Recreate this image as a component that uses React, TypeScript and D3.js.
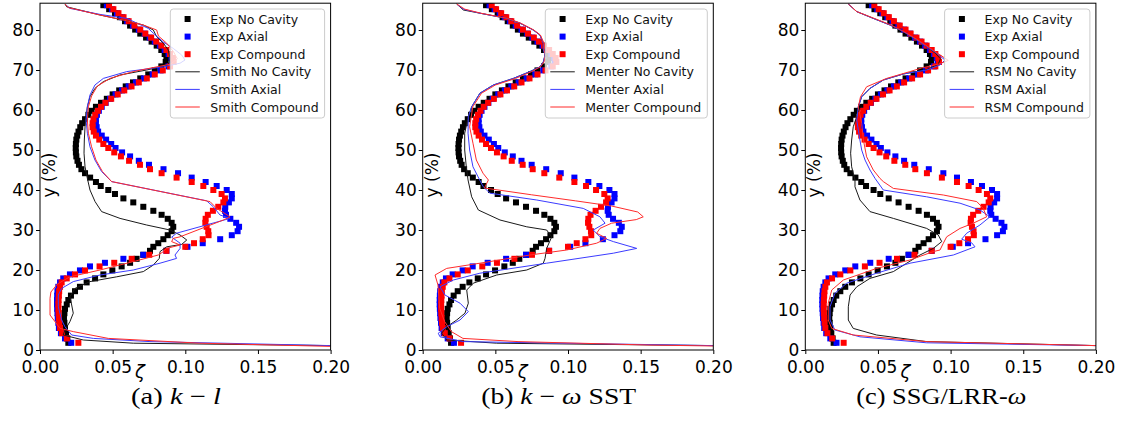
import React, { useEffect, useRef } from "react";
import * as d3 from "d3";

type Pt = [number, number];

// experimental profiles (same in every panel)
const expY = [
  86.2, 85.2, 84.2, 83.2, 82.2, 81.1, 80.1, 79.1, 78.1, 77.1, 76.1, 75.0, 74.0, 73.0, 72.0,
  70.9, 69.9, 68.9, 67.9, 66.9, 65.9, 64.9, 63.9, 62.8, 61.8, 60.8,
  59.8, 58.8, 57.7, 56.7, 55.7, 54.6, 53.6, 52.6, 51.5, 50.5,
  49.4, 48.4, 47.3, 46.3, 45.2, 44.2, 43.1, 42.0, 41.0, 40.0,
  39.0, 37.9, 36.9, 35.8, 34.8, 33.8, 32.8, 31.8, 30.8,
  29.7, 28.7, 27.7, 26.7, 25.8, 24.8, 23.8, 22.8, 21.8, 20.9,
  19.9, 18.9, 17.9, 16.9, 15.8, 14.7, 13.6, 12.5, 11.4, 10.3,
  9.2, 8.0, 6.8, 5.5, 4.2, 2.9, 1.8,
];

const expNoCavity = [
  0.0436, 0.0476, 0.0516, 0.055, 0.0585, 0.062, 0.0655, 0.069, 0.073, 0.0768, 0.0803, 0.0835, 0.0858, 0.087, 0.0865,
  0.0835, 0.079, 0.0745, 0.069, 0.064, 0.059, 0.0545, 0.05, 0.046, 0.042, 0.0385,
  0.0355, 0.0333, 0.031, 0.029, 0.0277, 0.0265, 0.0256, 0.025, 0.0247, 0.0246,
  0.0247, 0.025, 0.0258, 0.0268, 0.0285, 0.031, 0.0345, 0.0385, 0.0418, 0.047,
  0.0516, 0.0574, 0.0642, 0.0711, 0.078, 0.0837, 0.0879, 0.0906, 0.0917,
  0.0906, 0.0879, 0.0849, 0.0814, 0.078, 0.0757, 0.0711, 0.0665, 0.062, 0.0562,
  0.0498, 0.0436, 0.0379, 0.0321, 0.0275, 0.0241, 0.0213, 0.0195, 0.0184, 0.0172,
  0.0168, 0.0165, 0.0168, 0.0172, 0.0179, 0.0188, 0.0195,
];

const expAxial = [
  0.046, 0.0495, 0.053, 0.0565, 0.06, 0.064, 0.068, 0.072, 0.0755, 0.079, 0.0825, 0.0858, 0.0885, 0.0905, 0.091,
  0.0885, 0.083, 0.0775, 0.0715, 0.066, 0.061, 0.0565, 0.052, 0.0482, 0.0452, 0.0425,
  0.0405, 0.0392, 0.0385, 0.0385, 0.039, 0.04, 0.0425, 0.0455, 0.049, 0.052,
  0.0565, 0.062, 0.068, 0.075, 0.085, 0.095, 0.1044, 0.114, 0.1216, 0.1285,
  0.132, 0.132, 0.13, 0.1275, 0.1273, 0.128, 0.131, 0.135, 0.137,
  0.136, 0.132, 0.124, 0.112, 0.1015, 0.087, 0.0711, 0.0574, 0.0447, 0.0344,
  0.0275, 0.0206, 0.016, 0.0138, 0.0126, 0.012, 0.0118, 0.0117, 0.0117, 0.0118,
  0.012, 0.0122, 0.0126, 0.013, 0.0144, 0.0172, 0.0215,
];

const expCompound = [
  0.0475, 0.0505, 0.054, 0.0575, 0.061, 0.065, 0.069, 0.0725, 0.0765, 0.08, 0.0835, 0.087, 0.0895, 0.0915, 0.092,
  0.0895, 0.0845, 0.079, 0.0735, 0.068, 0.063, 0.058, 0.0535, 0.049, 0.045, 0.042,
  0.0398, 0.038, 0.0368, 0.0362, 0.0362, 0.037, 0.0385, 0.0408, 0.0436, 0.047,
  0.0511, 0.0557, 0.0613, 0.0688, 0.0757, 0.0837, 0.094, 0.1044, 0.1124, 0.1193,
  0.125, 0.1273, 0.1262, 0.1227, 0.119, 0.1155, 0.114, 0.1138, 0.1147,
  0.1158, 0.116, 0.112, 0.106, 0.1, 0.087, 0.0752, 0.0631, 0.0511, 0.041,
  0.031, 0.0241, 0.0184, 0.0149, 0.0138, 0.0132, 0.013, 0.0128, 0.0127, 0.0127,
  0.0128, 0.013, 0.0133, 0.0138, 0.0152, 0.0185, 0.0264,
];

// (a) k-l, Smith
const smithNoCavity: Pt[] = [
  [0.0172, 86.5], [0.0184, 85.8], [0.0413, 83.75], [0.0597, 82.3], [0.0711, 81.25], [0.078, 80], [0.0803, 78.3],
  [0.0849, 76.7], [0.0883, 75], [0.0895, 72.9], [0.0883, 71.25], [0.0734, 70], [0.055, 68.75], [0.0436, 67.1],
  [0.0378, 65.4], [0.0344, 63.3], [0.0326, 60.8], [0.0317, 58.3], [0.031, 55.8], [0.0305, 52.5], [0.0303, 49.2],
  [0.031, 45.8], [0.0326, 42.9], [0.0344, 40], [0.0379, 37.1], [0.0424, 34.6], [0.0551, 32.9], [0.0734, 31.25],
  [0.0895, 30], [0.0964, 28.75], [0.101, 27.5], [0.0975, 26.4], [0.0872, 25.8], [0.0826, 24.6], [0.0821, 22.9],
  [0.078, 21.25], [0.0711, 19.6], [0.0528, 18.3], [0.0344, 17.1], [0.0241, 15.4], [0.0206, 13.3], [0.0218, 11.25],
  [0.0229, 9.2], [0.0206, 7.1], [0.0172, 5], [0.016, 3.75], [0.0298, 2.5], [0.0642, 1.7], [0.2, 1.1],
];
const smithAxial: Pt[] = [
  [0.0172, 86.5], [0.0206, 85.4], [0.0413, 83.9], [0.0597, 82.9], [0.0745, 80.4], [0.078, 79.2], [0.0849, 77],
  [0.0917, 75.4], [0.0975, 73.75], [0.0998, 72.5], [0.0964, 71.7], [0.0849, 70.8], [0.0597, 69.6], [0.0436, 67.9],
  [0.0378, 66.25], [0.0344, 63.75], [0.0326, 60.8], [0.0317, 57.5], [0.0326, 54.2], [0.0344, 50.8], [0.0378, 47.5],
  [0.0424, 44.6], [0.0493, 42.1], [0.1147, 37.3], [0.1193, 35.8], [0.1239, 33.75], [0.1308, 32.9], [0.094, 29.2],
  [0.0906, 28.2], [0.0964, 26.7], [0.0964, 25.4], [0.0929, 23.75], [0.094, 22.9], [0.0826, 21.7], [0.0642, 20],
  [0.0413, 18.75], [0.0229, 17.1], [0.0149, 15.4], [0.0126, 13.75], [0.0126, 10.8], [0.0149, 7.5], [0.0172, 5.8],
  [0.0218, 3.75], [0.0367, 2.9], [0.0757, 2.1], [0.2, 1.1],
];
const smithCompound: Pt[] = [
  [0.0172, 86.5], [0.0195, 85.6], [0.0413, 83.75], [0.0597, 82.3], [0.0711, 81.25], [0.0803, 80], [0.0815, 78.5],
  [0.0872, 76.7], [0.092, 74.5], [0.0945, 72.8], [0.09, 71.5], [0.0642, 69.6], [0.0482, 67.9], [0.0395, 66],
  [0.0355, 63.5], [0.0333, 60.8], [0.0326, 57.5], [0.0333, 54.2], [0.0355, 50.8], [0.0385, 47.5], [0.043, 44.6],
  [0.0493, 42.1], [0.117, 37.1], [0.1216, 35.4], [0.1308, 33.3], [0.1262, 32.5], [0.0964, 28.3], [0.0917, 27.9],
  [0.0906, 27.1], [0.0964, 26.25], [0.0872, 25.4], [0.0849, 24.6], [0.0814, 23.75], [0.0642, 22.1], [0.0413, 20],
  [0.0206, 18.3], [0.012, 16.5], [0.0075, 14.5], [0.0069, 12.9], [0.0069, 8.75], [0.0138, 5.4], [0.0229, 4.6],
  [0.047, 2.9], [0.11, 1.7], [0.2, 0.9],
];

// (b) k-omega SST, Menter
const menterNoCavity: Pt[] = [
  [0.0234, 86.5], [0.028, 85], [0.0394, 84.2], [0.0578, 82.9], [0.067, 81.7], [0.0761, 80], [0.0807, 78.75],
  [0.083, 76.7], [0.083, 75], [0.0842, 73.75], [0.083, 72], [0.0807, 70.8], [0.0738, 69.6], [0.0624, 67.9],
  [0.0486, 66.25], [0.0394, 64.2], [0.0337, 60.8], [0.0314, 58.3], [0.0289, 54.2], [0.0289, 50], [0.03, 45.8],
  [0.0312, 42.5], [0.0337, 38.3], [0.0383, 35], [0.0532, 32.5], [0.0716, 30.8], [0.0853, 30], [0.0888, 28.3],
  [0.0853, 25.4], [0.0842, 22.9], [0.083, 21.7], [0.0716, 20], [0.0509, 18.75], [0.0348, 16.7], [0.0303, 15],
  [0.0307, 13.75], [0.0314, 11.7], [0.0291, 9.2], [0.0234, 7.5], [0.0165, 5.8], [0.0131, 4.2], [0.0165, 2.5],
  [0.0509, 1.7], [0.2, 1.1],
];
const menterAxial: Pt[] = [
  [0.0234, 86.5], [0.028, 85.2], [0.0394, 84.2], [0.0578, 82.9], [0.067, 81.7], [0.0761, 80], [0.0807, 78.75],
  [0.083, 76.7], [0.083, 75], [0.0842, 73.75], [0.083, 72], [0.0807, 70.8], [0.0738, 69.6], [0.0624, 67.9],
  [0.0486, 66.25], [0.0394, 64.2], [0.0337, 60.8], [0.0314, 58.3], [0.0312, 54.2], [0.0323, 50], [0.0346, 45.8],
  [0.0381, 43.3], [0.0417, 40.8], [0.0463, 39.2], [0.0785, 37.5], [0.1105, 35.4], [0.122, 33.3], [0.1255, 31.7],
  [0.1174, 30], [0.122, 28.3], [0.1312, 27.1], [0.1473, 25.4], [0.1312, 24.2], [0.0853, 21.7], [0.0394, 19.2],
  [0.0211, 17.5], [0.0119, 15.8], [0.0153, 13.75], [0.0257, 11.7], [0.0314, 9.6], [0.0257, 7.5], [0.0165, 5.8],
  [0.0107, 4.2], [0.0119, 3.3], [0.028, 2.1], [0.2, 1.1],
];
const menterCompound: Pt[] = [
  [0.0234, 86.5], [0.029, 85.2], [0.04, 84.2], [0.0585, 82.9], [0.0675, 81.7], [0.0765, 80], [0.081, 78.75],
  [0.0835, 76.7], [0.0835, 75], [0.0845, 73.75], [0.0835, 72], [0.081, 70.8], [0.075, 69.6], [0.064, 67.9],
  [0.05, 66.25], [0.0405, 64.2], [0.0345, 60.8], [0.0323, 55.8], [0.0346, 51.7], [0.0369, 47.5], [0.0415, 44.2],
  [0.0452, 42.5], [0.0425, 40.5], [0.075, 38.8], [0.105, 37.3], [0.13, 36], [0.148, 34.5], [0.1518, 33.3],
  [0.147, 32.6], [0.13, 31.7], [0.122, 30.4], [0.1197, 29.2], [0.1266, 27.9], [0.1197, 26.7], [0.0991, 25],
  [0.0738, 23.75], [0.0394, 21.7], [0.0165, 20.4], [0.0085, 18.75], [0.0105, 16.25], [0.0117, 10.4], [0.0151, 7.1],
  [0.0197, 4.6], [0.0277, 2.9], [0.0656, 2.1], [0.155, 1.25], [0.2, 1.0],
];

// (c) SSG/LRR-omega, RSM
const rsmNoCavity: Pt[] = [
  [0.0296, 86.5], [0.0354, 84.6], [0.0468, 82.9], [0.0583, 81.25], [0.0674, 79.6], [0.0767, 77.5], [0.0835, 75.8],
  [0.0895, 74.2], [0.093, 72.8], [0.0915, 71.4], [0.0835, 70.1], [0.0674, 69], [0.0537, 67.5], [0.0445, 65.4],
  [0.0388, 63.3], [0.0365, 60.8], [0.0354, 58.3], [0.033, 55.8], [0.0319, 52.5], [0.0312, 49.2], [0.0319, 45.8],
  [0.0342, 42.5], [0.0342, 40.8], [0.0376, 37.5], [0.0445, 34.6], [0.0606, 32.9], [0.0835, 30.4], [0.0915, 28.75],
  [0.0939, 27.1], [0.0881, 25.4], [0.0789, 23.75], [0.0698, 21.7], [0.0606, 19.6], [0.0445, 17.9], [0.0354, 15.8],
  [0.0308, 13.75], [0.0296, 10.8], [0.0296, 7.5], [0.033, 5.4], [0.0491, 3.75], [0.0835, 2.1], [0.2, 1.1],
];
const rsmAxial: Pt[] = [
  [0.0296, 86.5], [0.0354, 84.6], [0.0468, 82.9], [0.0583, 81.25], [0.0674, 79.6], [0.0767, 77.5], [0.0835, 75.8],
  [0.0904, 74.2], [0.0961, 72.5], [0.0927, 71.25], [0.0835, 70], [0.0674, 69], [0.0537, 67.5], [0.0445, 65.4],
  [0.0388, 63.3], [0.0365, 60.8], [0.0354, 57.5], [0.0376, 52.5], [0.0388, 50], [0.0411, 47.5], [0.0445, 45],
  [0.048, 42.9], [0.0537, 40], [0.0835, 38.3], [0.1065, 36.7], [0.1202, 35], [0.1271, 33.3], [0.1202, 31.25],
  [0.1111, 29.2], [0.1076, 27.7], [0.1145, 26.8], [0.1168, 25.8], [0.1019, 23.75], [0.0721, 21.7], [0.0491, 19.2],
  [0.0285, 16.7], [0.0204, 14.2], [0.017, 10.8], [0.017, 7.5], [0.0204, 5], [0.0376, 3.3], [0.0835, 1.8], [0.2, 1.1],
];
const rsmCompound: Pt[] = [
  [0.0296, 86.5], [0.0354, 84.6], [0.0475, 82.9], [0.059, 81.25], [0.068, 79.6], [0.0775, 77.5], [0.0845, 75.8],
  [0.091, 74.2], [0.0984, 72.4], [0.092, 71.5], [0.08, 70.5], [0.072, 69.6], [0.056, 67.9], [0.0422, 65.8],
  [0.038, 63.3], [0.0365, 60.8], [0.0388, 56.7], [0.04, 52.5], [0.0422, 48.3], [0.0468, 45], [0.0514, 42.9],
  [0.0537, 42.1], [0.0606, 40.4], [0.095, 38.75], [0.118, 37.1], [0.1225, 35.4], [0.1248, 33.3], [0.1156, 31.7],
  [0.1065, 30.4], [0.0973, 28.3], [0.095, 26.7], [0.0927, 25], [0.0881, 24.6], [0.072, 22.5], [0.0491, 20.4],
  [0.0262, 17.5], [0.0182, 15], [0.0158, 11.7], [0.0158, 7.5], [0.0182, 5.4], [0.033, 3.75], [0.0835, 2.1], [0.2, 1.1],
];

const xTicks = [0, 0.05, 0.1, 0.15, 0.2];
const yTicks = [0, 10, 20, 30, 40, 50, 60, 70, 80];
const caseNames = ["No Cavity", "Axial", "Compound"];
const markerColors = ["#000000", "#0000ff", "#ff0000"];
const lineColors = ["#1a1a1a", "#3b3bff", "#ff2b2b"];

type CapPart = { text: string; italic?: boolean };
const panels: { model: string; lines: Pt[][]; caption: CapPart[] }[] = [
  {
    model: "Smith",
    lines: [smithNoCavity, smithAxial, smithCompound],
    caption: [{ text: "(a) " }, { text: "k", italic: true }, { text: " \u2212 " }, { text: "l", italic: true }],
  },
  {
    model: "Menter",
    lines: [menterNoCavity, menterAxial, menterCompound],
    caption: [
      { text: "(b) " }, { text: "k", italic: true }, { text: " \u2212 " }, { text: "\u03c9", italic: true }, { text: " SST" },
    ],
  },
  {
    model: "RSM",
    lines: [rsmNoCavity, rsmAxial, rsmCompound],
    caption: [{ text: "(c) SSG/LRR-" }, { text: "\u03c9", italic: true }],
  },
];

const W = 1127;
const H = 428;
const PLOT_W = 290.6;
const TOP = 3.2;
const BOTTOM = 350;
const Y_MAX = 86.7;
const PANEL_X = [40, 422.7, 805.3];
const CAPTION_W = [90, 155, 170];
const FONT = "DejaVu Sans";

const App: React.FC = () => {
  const svgRef = useRef<SVGSVGElement>(null);

  useEffect(() => {
    if (!svgRef.current) return;
    const svg = d3.select(svgRef.current);
    svg.selectAll("*").remove();
    svg.append("rect").attr("width", W).attr("height", H).attr("fill", "#fff");

    panels.forEach((p, pi) => {
      const x0 = PANEL_X[pi];
      const x = d3.scaleLinear().domain([0, 0.2]).range([x0, x0 + PLOT_W]);
      const y = d3.scaleLinear().domain([0, Y_MAX]).range([BOTTOM, TOP]);
      const g = svg.append("g");

      const clipId = `clip-${pi}`;
      g.append("clipPath")
        .attr("id", clipId)
        .append("rect")
        .attr("x", x0)
        .attr("y", TOP)
        .attr("width", PLOT_W)
        .attr("height", BOTTOM - TOP);
      const plot = g.append("g").attr("clip-path", `url(#${clipId})`);

      // experimental squares
      [expNoCavity, expAxial, expCompound].forEach((vals, si) => {
        plot
          .append("g")
          .selectAll("rect")
          .data(vals)
          .enter()
          .append("rect")
          .attr("x", (d) => x(d) - 3)
          .attr("y", (_, i) => y(expY[i]) - 3)
          .attr("width", 6)
          .attr("height", 6)
          .attr("fill", markerColors[si]);
      });

      // model lines
      const line = d3
        .line<Pt>()
        .x((d) => x(d[0]))
        .y((d) => y(d[1]));
      p.lines.forEach((ln, li) => {
        plot
          .append("path")
          .datum(ln)
          .attr("fill", "none")
          .attr("stroke", lineColors[li])
          .attr("stroke-width", 1)
          .attr("d", line);
      });

      // frame
      g.append("rect")
        .attr("x", x0)
        .attr("y", TOP)
        .attr("width", PLOT_W)
        .attr("height", BOTTOM - TOP)
        .attr("fill", "none")
        .attr("stroke", "#000")
        .attr("stroke-width", 1);

      const xAxis = g
        .append("g")
        .attr("transform", `translate(0,${BOTTOM})`)
        .call(
          d3
            .axisBottom(x)
            .tickValues(xTicks)
            .tickFormat(d3.format(".2f"))
            .tickSize(4)
            .tickPadding(6.5)
        );
      xAxis.select(".domain").remove();
      xAxis.attr("font-size", 17).attr("font-family", FONT);

      const yAxis = g
        .append("g")
        .attr("transform", `translate(${x0},0)`)
        .call(d3.axisLeft(y).tickValues(yTicks).tickSize(4).tickPadding(2));
      yAxis.select(".domain").remove();
      yAxis.attr("font-size", 17).attr("font-family", FONT);

      // axis labels
      g.append("text")
        .attr("transform", `translate(${x0 + 15},175) rotate(-90)`)
        .attr("text-anchor", "middle")
        .attr("font-family", FONT)
        .attr("font-size", 17)
        .text("y (%)");
      g.append("text")
        .attr("x", x0 + 100)
        .attr("y", 378)
        .attr("text-anchor", "middle")
        .attr("font-family", FONT)
        .attr("font-style", "italic")
        .attr("font-size", 18)
        .text("\u03b6");

      // legend
      const lg = g.append("g");
      const box = lg.append("rect");
      const labels = [
        ...caseNames.map((c) => `Exp ${c}`),
        ...caseNames.map((c) => `${p.model} ${c}`),
      ];
      const rowY = (i: number) => 19 + i * 17.6;
      let maxW = 0;
      labels.forEach((t, i) => {
        const txt = lg
          .append("text")
          .attr("x", 40)
          .attr("y", rowY(i))
          .attr("dominant-baseline", "central")
          .attr("font-family", FONT)
          .attr("font-size", 12.5)
          .attr("fill", "#111")
          .text(t);
        const node = txt.node() as SVGTextElement;
        maxW = Math.max(maxW, node.getComputedTextLength());
        if (i < 3) {
          lg.append("rect")
            .attr("x", 17.3 - 3)
            .attr("y", rowY(i) - 3)
            .attr("width", 6)
            .attr("height", 6)
            .attr("fill", markerColors[i]);
        } else {
          lg.append("line")
            .attr("x1", 5)
            .attr("x2", 29.5)
            .attr("y1", rowY(i))
            .attr("y2", rowY(i))
            .attr("stroke", lineColors[i - 3])
            .attr("stroke-width", 1);
        }
      });
      const lw = 40 + maxW + 6;
      box
        .attr("x", 0)
        .attr("y", 9)
        .attr("width", lw)
        .attr("height", 109)
        .attr("rx", 3)
        .attr("fill", "#fff")
        .attr("fill-opacity", 0.8)
        .attr("stroke", "#ccc")
        .attr("stroke-width", 1);
      lg.attr("transform", `translate(${x0 + PLOT_W - 6 - lw},0)`);

      // caption
      const cap = svg
        .append("text")
        .attr("x", x0 + 136)
        .attr("y", 404)
        .attr("text-anchor", "middle")
        .attr("font-family", "Liberation Serif")
        .attr("font-size", 23)
        .attr("textLength", CAPTION_W[pi])
        .attr("lengthAdjust", "spacingAndGlyphs");
      p.caption.forEach((part) => {
        cap
          .append("tspan")
          .attr("font-style", part.italic ? "italic" : "normal")
          .text(part.text);
      });
    });
  }, []);

  return (
    <svg
      ref={svgRef}
      width={W}
      height={H}
      viewBox={`0 0 ${W} ${H}`}
      style={{ position: "absolute", left: 0, top: 0 }}
    />
  );
};

export default App;
